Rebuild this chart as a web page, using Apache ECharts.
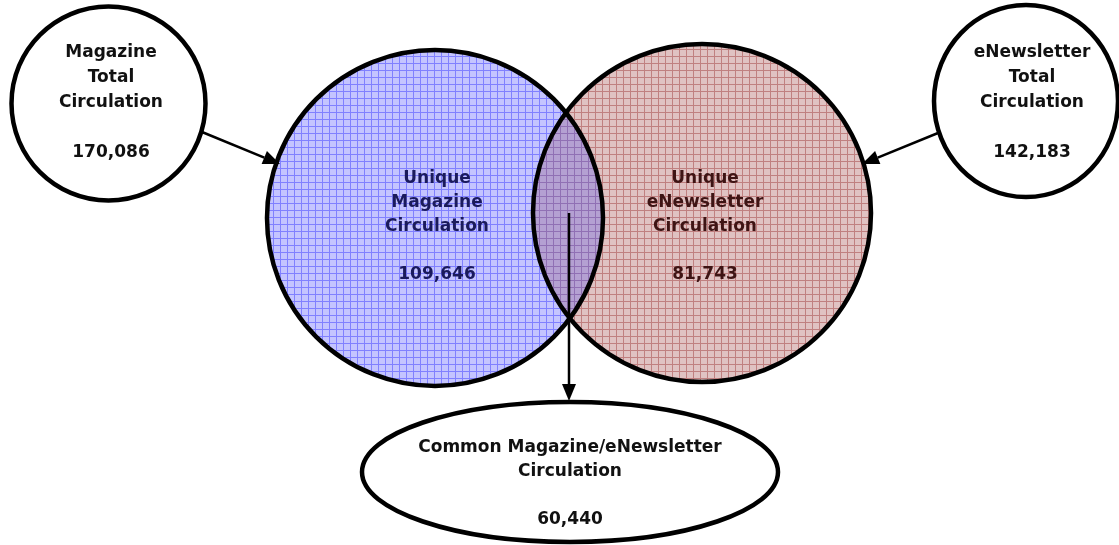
<!DOCTYPE html>
<html>
<head>
<meta charset="utf-8">
<script src="https://cdn.jsdelivr.net/npm/echarts@6/dist/echarts.min.js"></script>
<style>
  html, body { margin: 0; padding: 0; background: #fff; }
  #chart { width: 1119px; height: 545px; }
</style>
</head>
<body>
<div id="chart"></div>
<script>
// values
const regionNames = ['magTotal', 'magUnique', 'newsUnique', 'newsTotal', 'common']
const regionLabels = [
  'Magazine\nTotal\nCirculation',
  'Unique\nMagazine\nCirculation',
  'Unique\neNewsletter\nCirculation',
  'eNewsletter\nTotal\nCirculation',
  'Common Magazine/eNewsletter\nCirculation',
]
const regionValues = [170086, 109646, 81743, 142183, 60440]

// layout, in pixel units of the hidden axes (x 0..1119, y 0..545 downwards)
const layout = {
  magCircle: { cx: 435, cy: 218, r: 168 },
  newsCircle: { cx: 702, cy: 213, r: 169 },
  magTotal: { cx: 108.5, cy: 103.5, rx: 97, ry: 97, tx: 111, ty: 103, lh: 25 },
  newsTotal: { cx: 1026, cy: 101, rx: 92, ry: 96, tx: 1032, ty: 103, lh: 25 },
  common: { cx: 570, cy: 472, rx: 208, ry: 70, tx: 570, ty: 484, lh: 24 },
  magUnique: { tx: 437, ty: 227, lh: 24 },
  newsUnique: { tx: 705, ty: 227, lh: 24 },
  arrows: [
    [[202, 132], [280, 164]],
    [[938, 133], [862, 164]],
    [[569, 213], [569, 401]],
  ],
}

function makePattern(bg, line, step) {
  const c = document.createElement('canvas')
  c.width = step
  c.height = step
  const g = c.getContext('2d')
  g.fillStyle = bg
  g.fillRect(0, 0, step, step)
  g.fillStyle = line
  g.fillRect(0, 0, step, 1)
  g.fillRect(0, 0, 1, step)
  return { image: c, repeat: 'repeat' }
}
const bluePattern = makePattern('#c4c4ff', '#8080ff', 7)
const redPattern = makePattern('#e0c2c2', '#c08080', 7)
const lensPattern = makePattern('#b4a0d2', '#9070b4', 7)

const fmt = (v) => v.toLocaleString('en-US')

function textEl(api, i, color) {
  const L = layout[regionNames[i]]
  const p = api.coord([L.tx, L.ty])
  return {
    type: 'text',
    z2: 50,
    style: {
      text: regionLabels[i] + '\n\n' + fmt(regionValues[i]),
      x: p[0],
      y: p[1],
      fontSize: 17,
      fontWeight: 'bold',
      fontFamily: '"DejaVu Sans", Verdana, sans-serif',
      fill: color,
      align: 'center',
      verticalAlign: 'middle',
      lineHeight: L.lh,
    },
  }
}

function ellipseEl(api, L) {
  const p = api.coord([L.cx, L.cy])
  const s = api.size([L.rx, L.ry])
  return {
    type: 'ellipse',
    shape: { cx: p[0], cy: p[1], rx: s[0], ry: s[1] },
    style: { fill: '#fff', stroke: '#000', lineWidth: 4.5 },
  }
}

function arrowEl(api, a) {
  const p0 = api.coord(a[0])
  const p1 = api.coord(a[1])
  const dx = p1[0] - p0[0]
  const dy = p1[1] - p0[1]
  const len = Math.sqrt(dx * dx + dy * dy)
  const ux = dx / len
  const uy = dy / len
  const hl = 17
  const hw = 7
  const bx = p1[0] - ux * hl
  const by = p1[1] - uy * hl
  return {
    type: 'group',
    children: [
      {
        type: 'line',
        shape: { x1: p0[0], y1: p0[1], x2: bx, y2: by },
        style: { stroke: '#000', lineWidth: 2.5 },
      },
      {
        type: 'polygon',
        shape: {
          points: [
            [p1[0], p1[1]],
            [bx - uy * hw, by + ux * hw],
            [bx + uy * hw, by - ux * hw],
          ],
        },
        style: { fill: '#000' },
      },
    ],
  }
}

function renderItem(params, api) {
  const kind = api.value(0)
  const A = layout.magCircle
  const B = layout.newsCircle
  const pa = api.coord([A.cx, A.cy])
  const pb = api.coord([B.cx, B.cy])
  const ra = api.size([A.r, A.r])[0]
  const rb = api.size([B.r, B.r])[0]
  if (kind === 0) {
    // venn: fills, lens, outlines
    const dx = pb[0] - pa[0]
    const dy = pb[1] - pa[1]
    const d = Math.sqrt(dx * dx + dy * dy)
    const a = (d * d + ra * ra - rb * rb) / (2 * d)
    const h = Math.sqrt(ra * ra - a * a)
    const mx = pa[0] + (a * dx) / d
    const my = pa[1] + (a * dy) / d
    const t = [mx + (h * dy) / d, my - (h * dx) / d]
    const b = [mx - (h * dy) / d, my + (h * dx) / d]
    const lens =
      'M' + t[0] + ' ' + t[1] +
      ' A' + ra + ' ' + ra + ' 0 0 1 ' + b[0] + ' ' + b[1] +
      ' A' + rb + ' ' + rb + ' 0 0 1 ' + t[0] + ' ' + t[1] + ' Z'
    return {
      type: 'group',
      children: [
        { type: 'circle', shape: { cx: pa[0], cy: pa[1], r: ra }, style: { fill: bluePattern } },
        { type: 'circle', shape: { cx: pb[0], cy: pb[1], r: rb }, style: { fill: redPattern } },
        { type: 'path', shape: { pathData: lens }, style: { fill: lensPattern } },
        { type: 'circle', shape: { cx: pa[0], cy: pa[1], r: ra }, style: { fill: 'none', stroke: '#000', lineWidth: 4.5 } },
        { type: 'circle', shape: { cx: pb[0], cy: pb[1], r: rb }, style: { fill: 'none', stroke: '#000', lineWidth: 4.5 } },
        textEl(api, 1, '#1a1a5c'),
        textEl(api, 2, '#3e1414'),
      ],
    }
  }
  if (kind === 1) {
    return {
      type: 'group',
      children: [
        ellipseEl(api, layout.magTotal),
        ellipseEl(api, layout.newsTotal),
        ellipseEl(api, layout.common),
        textEl(api, 0, '#111'),
        textEl(api, 3, '#111'),
        textEl(api, 4, '#111'),
      ],
    }
  }
  return {
    type: 'group',
    children: layout.arrows.map((ar) => arrowEl(api, ar)),
  }
}

const chart = echarts.init(document.getElementById('chart'))
chart.setOption({
  animation: false,
  grid: { left: 0, right: 0, top: 0, bottom: 0 },
  xAxis: { type: 'value', min: 0, max: 1119, show: false },
  yAxis: { type: 'value', min: 0, max: 545, inverse: true, show: false },
  series: [
    {
      type: 'custom',
      renderItem: renderItem,
      coordinateSystem: 'cartesian2d',
      clip: false,
      data: [[0], [1], [2]],
      silent: true,
    },
  ],
})
</script>
</body>
</html>
